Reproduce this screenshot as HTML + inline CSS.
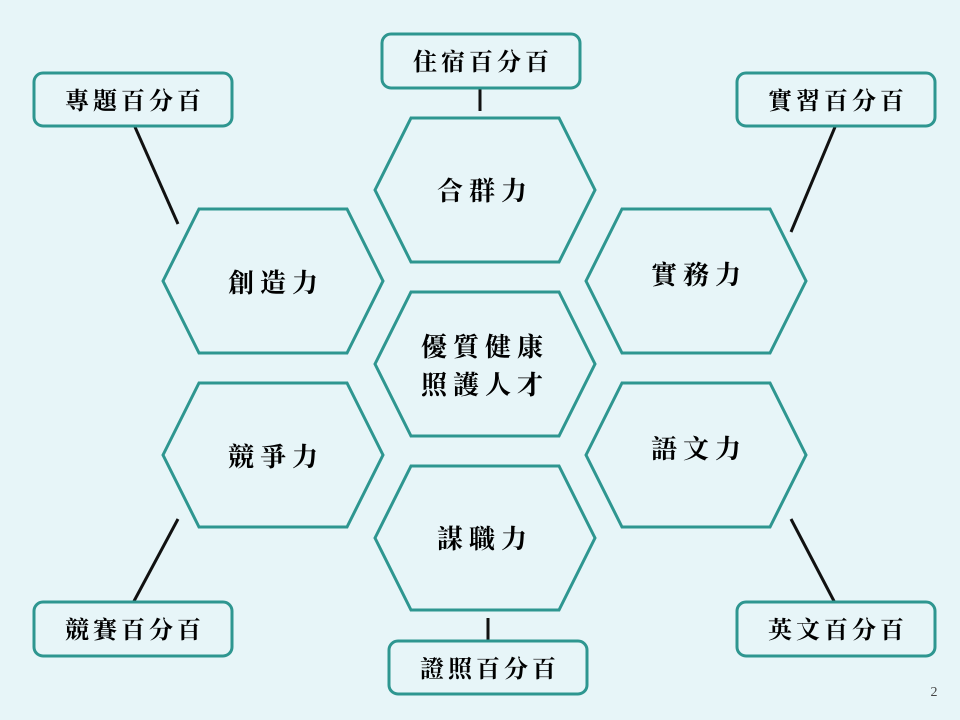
<!DOCTYPE html>
<html><head><meta charset="utf-8"><style>
body{margin:0;background:#e7f5f8;}
svg{display:block}
text{font-family:"Liberation Serif","Noto Serif CJK SC","Noto Serif CJK TC",serif;fill:#000;text-anchor:middle;font-weight:bold;}
</style></head><body>
<svg width="960" height="720" viewBox="0 0 960 720">
<rect width="960" height="720" fill="#e7f5f8"/>
<g stroke="#111" stroke-width="3">
<line x1="480" y1="89" x2="480" y2="111"/>
<line x1="135" y1="127" x2="178" y2="224"/>
<line x1="835" y1="127" x2="791" y2="232"/>
<line x1="178" y1="519" x2="133" y2="603"/>
<line x1="791" y1="519" x2="835" y2="603"/>
<line x1="488" y1="618" x2="488" y2="640"/>
</g>
<g fill="#e7f5f8" stroke="#2e9690" stroke-width="3">
<polygon points="375,190 411,118 559,118 595,190 559,262 411,262"/>
<polygon points="375,364 411,292 559,292 595,364 559,436 411,436"/>
<polygon points="375,538 411,466 559,466 595,538 559,610 411,610"/>
<polygon points="163,281 199,209 347,209 383,281 347,353 199,353"/>
<polygon points="163,455 199,383 347,383 383,455 347,527 199,527"/>
<polygon points="586,281 622,209 770,209 806,281 770,353 622,353"/>
<polygon points="586,455 622,383 770,383 806,455 770,527 622,527"/>
<rect x="382" y="34" width="198" height="54" rx="9"/>
<rect x="34" y="73" width="198" height="53" rx="9"/>
<rect x="737" y="73" width="198" height="53" rx="9"/>
<rect x="34" y="602" width="198" height="54" rx="9"/>
<rect x="737" y="602" width="198" height="54" rx="9"/>
<rect x="389" y="641" width="198" height="53" rx="9"/>
</g>
<g font-size="26" letter-spacing="6">
<text x="485" y="200">合群力</text>
<text x="485" y="356">優質健康</text>
<text x="485" y="394">照護人才</text>
<text x="485" y="548">謀職力</text>
<text x="276" y="292">創造力</text>
<text x="276" y="466">競爭力</text>
<text x="699" y="284">實務力</text>
<text x="699" y="458">語文力</text>
</g>
<g font-size="24" letter-spacing="4">
<text x="483" y="70">住宿百分百</text>
<text x="135" y="109">專題百分百</text>
<text x="838" y="109">實習百分百</text>
<text x="135" y="638">競賽百分百</text>
<text x="838" y="638">英文百分百</text>
<text x="490" y="677">證照百分百</text>
</g>
<text x="934" y="696" font-size="14" style="fill:#444;font-weight:normal">2</text>
</svg>
</body></html>
